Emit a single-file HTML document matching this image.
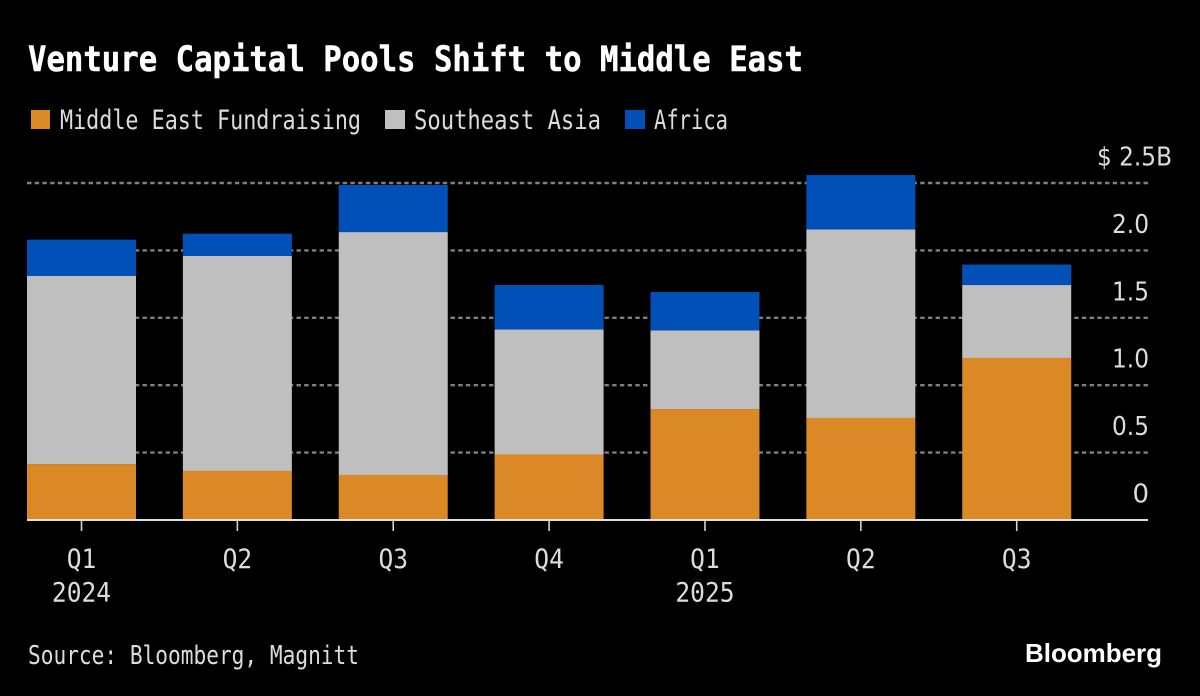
<!DOCTYPE html>
<html lang="en">
<head>
<meta charset="utf-8">
<title>Venture Capital Pools Shift to Middle East</title>
<style>
  html, body { margin: 0; padding: 0; background: #000; }
  body { width: 1200px; height: 696px; overflow: hidden; }
  svg { display: block; }
  text { font-family: "DejaVu Sans Mono", "Liberation Mono", monospace; }
</style>
</head>
<body>
<svg id="chart" xmlns="http://www.w3.org/2000/svg" width="1200" height="696" viewBox="0 0 1200 696">
  <rect x="0" y="0" width="1200" height="696" fill="#000"/>
  <text x="28" y="71" font-size="34.5" font-weight="700" fill="#fff" stroke="#fff" stroke-width="0.5" textLength="775" lengthAdjust="spacingAndGlyphs">Venture Capital Pools Shift to Middle East</text>

  <g>
    <rect x="31" y="110" width="19" height="19" fill="#DB8826"/>
    <text x="60" y="129" font-size="27" fill="#dcdcdc" textLength="301" lengthAdjust="spacingAndGlyphs">Middle East Fundraising</text>
    <rect x="385" y="110" width="20" height="19" fill="#BFBFBF"/>
    <text x="414" y="129" font-size="27" fill="#dcdcdc" textLength="187" lengthAdjust="spacingAndGlyphs">Southeast Asia</text>
    <rect x="625" y="110" width="20" height="19" fill="#0050B8"/>
    <text x="654" y="129" font-size="27" fill="#dcdcdc" textLength="74" lengthAdjust="spacingAndGlyphs">Africa</text>
  </g>

  <g id="grid"></g>
  <g id="bars"></g>
  <g id="axis"></g>
  <g id="ylabels"></g>

  <text x="28" y="664" font-size="25.5" fill="#dcdcdc" textLength="331" lengthAdjust="spacingAndGlyphs">Source: Bloomberg, Magnitt</text>
  <text x="1025" y="662" font-size="26" font-weight="700" fill="#fff" style="font-family:'Liberation Sans',sans-serif" textLength="137" lengthAdjust="spacingAndGlyphs">Bloomberg</text>
</svg>
<script>
const categories = ['Q1', 'Q2', 'Q3', 'Q4', 'Q1', 'Q2', 'Q3'];
const yearLabels = ['2024', '', '', '', '2025', '', ''];
const middleEast = [0.415, 0.364, 0.334, 0.486, 0.823, 0.757, 1.202];
const southeastAsia = [1.395, 1.595, 1.802, 0.927, 0.583, 1.398, 0.541];
const africa = [0.270, 0.165, 0.349, 0.330, 0.285, 0.404, 0.152];
const yTicks = [0, 0.5, 1, 1.5, 2, 2.5];
const yTickLabels = ['0', '0.5', '1.0', '1.5', '2.0', '$ 2.5B'];

const SVG_NS = 'http://www.w3.org/2000/svg';
const plot = { left: 27, right: 1148, base: 520, pxPerUnit: 134.8, first: 81.5, step: 155.87, barWidth: 109 };
const yScale = function (v) { return plot.base - v * plot.pxPerUnit; };
const xScale = function (i) { return plot.first + i * plot.step; };

function make(tag, parent, attrs) {
  const el = document.createElementNS(SVG_NS, tag);
  Object.keys(attrs).forEach(function (k) { el.setAttribute(k, attrs[k]); });
  parent.appendChild(el);
  return el;
}

const gridGroup = document.getElementById('grid');
const barsGroup = document.getElementById('bars');
const axisGroup = document.getElementById('axis');
const yLabelGroup = document.getElementById('ylabels');

yTicks.forEach(function (v, i) {
  const y = yScale(v);
  if (v !== 0) {
    const line = make('line', gridGroup, { x1: plot.left, x2: plot.right, y1: y, y2: y, stroke: '#808080', 'stroke-width': 2.4, 'stroke-dasharray': '4.4 3.3' });
    
    
  }
  const label = yTickLabels[i];
  const isTop = label.indexOf('$') === 0;
  const tickText = make('text', yLabelGroup, { x: isTop ? 1172 : 1149, y: y - 17.5, 'text-anchor': 'end', 'font-size': 26, fill: '#dcdcdc' });
  tickText.style.fontFamily = '"DejaVu Sans", sans-serif';
  
  
  tickText.textContent = label;
  if (isTop) {
    tickText.setAttribute('textLength', '75');
    tickText.setAttribute('lengthAdjust', 'spacingAndGlyphs');
  } else if (label.length === 3) {
    tickText.setAttribute('textLength', '37');
    tickText.setAttribute('lengthAdjust', 'spacingAndGlyphs');
  }
});

categories.forEach(function (cat, i) {
  const cx = xScale(i);
  const x = cx - plot.barWidth / 2;
  let cumulative = 0;
  [
    { name: 'bar-middle-east', values: middleEast, color: '#DB8826' },
    { name: 'bar-southeast-asia', values: southeastAsia, color: '#BFBFBF' },
    { name: 'bar-africa', values: africa, color: '#0050B8' }
  ].forEach(function (series) {
    const value = series.values[i];
    const top = yScale(cumulative + value);
    const bottom = yScale(cumulative);
    const seg = make('rect', barsGroup, { x: x, y: top, width: plot.barWidth, height: bottom - top, fill: series.color });
    
    
    cumulative += value;
  });

  const tick = make('line', axisGroup, { x1: cx, x2: cx, y1: plot.base, y2: plot.base + 11, stroke: '#d4d4d4', 'stroke-width': 1.6 });
  
  

  const quarter = make('text', axisGroup, { x: cx, y: 568, 'text-anchor': 'middle', 'font-size': 27, fill: '#dcdcdc', textLength: 29.6, lengthAdjust: 'spacingAndGlyphs' });
  
  
  quarter.textContent = cat;

  if (yearLabels[i]) {
    const year = make('text', axisGroup, { x: cx, y: 601.5, 'text-anchor': 'middle', 'font-size': 27, fill: '#dcdcdc', textLength: 59.2, lengthAdjust: 'spacingAndGlyphs' });
    
    
    year.textContent = yearLabels[i];
  }
});

const baseline = make('line', axisGroup, { x1: plot.left, x2: plot.right, y1: plot.base, y2: plot.base, stroke: '#e0e0e0', 'stroke-width': 2 });


</script>
</body>
</html>
